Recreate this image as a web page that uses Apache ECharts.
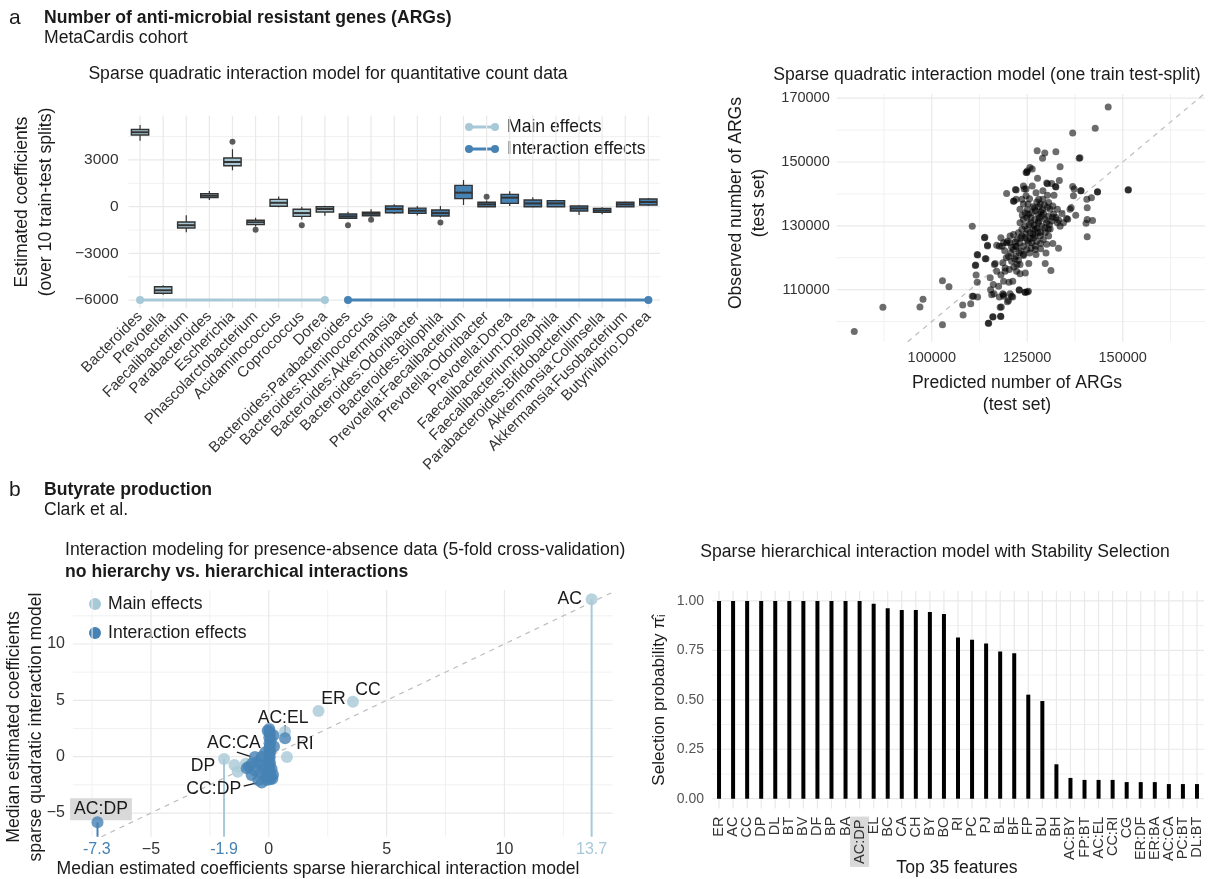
<!DOCTYPE html>
<html>
<head>
<meta charset="utf-8">
<script src="https://cdn.jsdelivr.net/npm/echarts@6/dist/echarts.min.js"></script>
<style>
  html, body { margin: 0; padding: 0; background: #fff; }
  #chart { width: 1208px; height: 879px; }
</style>
</head>
<body>
<div id="chart"></div>
<script>
// ---------------- Panel a (left): coefficient distributions ----------------
const mainGenera = ['Bacteroides', 'Prevotella', 'Faecalibacterium', 'Parabacteroides', 'Escherichia',
  'Phascolarctobacterium', 'Acidaminococcus', 'Coprococcus', 'Dorea'];
const interactionPairs = ['Bacteroides:Parabacteroides', 'Bacteroides:Ruminococcus', 'Bacteroides:Akkermansia',
  'Bacteroides:Odoribacter', 'Bacteroides:Bilophila', 'Prevotella:Faecalibacterium', 'Prevotella:Odoribacter',
  'Prevotella:Dorea', 'Faecalibacterium:Dorea', 'Faecalibacterium:Bilophila', 'Parabacteroides:Bifidobacterium',
  'Akkermansia:Collinsella', 'Akkermansia:Fusobacterium', 'Butyrivibrio:Dorea'];
const boxCategories = mainGenera.concat(interactionPairs);
// [lower whisker, Q1, median, Q3, upper whisker]
const boxStats = [
  [4240, 4600, 4780, 4960, 5250],
  [-5650, -5560, -5370, -5140, -5050],
  [-1640, -1370, -1190, -980, -550],
  [430, 580, 700, 830, 1000],
  [2340, 2630, 2870, 3130, 3690],
  [-1280, -1150, -1000, -870, -710],
  [-40, 30, 250, 470, 650],
  [-830, -620, -410, -160, 0],
  [-590, -340, -150, 0, 60],
  [-780, -740, -620, -470, -330],
  [-640, -580, -450, -360, -170],
  [-470, -390, -150, 40, 150],
  [-560, -430, -260, -90, 40],
  [-690, -600, -410, -210, 40],
  [110, 520, 900, 1370, 1710],
  [-20, 0, 150, 280, 390],
  [40, 210, 580, 790, 990],
  [-40, 0, 210, 430, 600],
  [-20, 0, 210, 390, 450],
  [-540, -280, -110, 40, 90],
  [-490, -360, -240, -110, -40],
  [-20, 0, 150, 280, 320],
  [40, 110, 300, 490, 560]
];
const boxOutliers = [
  ['Escherichia', 4170], ['Phascolarctobacterium', -1480], ['Coprococcus', -1200],
  ['Bacteroides:Parabacteroides', -1200], ['Bacteroides:Ruminococcus', -840],
  ['Bacteroides:Bilophila', -1010], ['Prevotella:Odoribacter', 640]
];
const effectBaseline = -6000;
const boxYTicks = [-6000, -3000, 0, 3000];
const boxYMinor = [-4500, -1500, 1500, 4500];
const boxYRange = [-6520, 5850];

// ---------------- Panel a (right): predicted vs observed ARGs ----------------
const argPoints = [
  [79700, 96900], [87200, 104500], [96900, 104600], [97700, 107000], [102800, 112800], [104500, 110900],
  [102800, 99000], [108100, 105200], [108200, 102100], [110200, 105600], [110900, 107900], [112000, 107700],
  [110600, 129900], [112000, 120900], [111500, 117700], [111600, 114600], [111900, 112300], [113800, 126300],
  [114000, 119700], [114600, 123700], [114900, 99500], [116000, 101500], [118000, 101700], [118200, 104600],
  [115700, 108400], [116400, 117900], [117700, 107700], [118800, 108400], [120100, 106600], [120900, 107900],
  [122900, 110000], [124500, 109200], [125000, 109300], [119600, 140100], [122100, 141200], [121500, 137800],
  [124000, 142500], [124900, 146700], [125700, 148300], [126300, 147800], [127600, 153500], [129000, 151200],
  [129600, 152800], [132500, 153200], [133600, 148500], [127700, 144900], [130100, 143400], [132500, 142200],
  [133400, 144200], [136900, 159100], [138600, 151200], [138800, 151300], [142800, 160600], [146200, 167200],
  [151400, 141200], [136900, 142300], [139000, 141000], [137100, 139400], [137300, 141500], [136500, 135700],
  [137700, 133300], [136200, 135200], [135600, 132100], [135300, 132300], [140600, 138300], [143400, 140600],
  [141800, 138800], [140700, 135700], [140700, 132000], [142100, 131700], [140400, 130800], [140700, 126600],
  [133200, 123000], [131200, 116000], [129700, 118200], [129900, 121500], [128500, 122800], [127100, 123700],
  [127300, 121000], [125400, 118200], [124500, 115200], [124000, 120700], [123300, 122100], [122200, 123600],
  [120700, 121500], [119600, 124700], [118400, 123600], [117000, 123900], [114600, 123900], [113900, 126400],
  [111900, 121000], [114200, 119700], [111400, 117600], [115300, 113700], [116600, 118200], [117000, 115800],
  [118100, 114600], [119200, 115800], [120300, 116300], [121500, 117100], [122200, 115800], [123100, 115000],
  [121200, 112600], [120200, 112300], [118800, 112600], [117500, 111100], [116100, 111600], [115400, 110000],
  [116300, 108700], [118600, 108700], [118800, 107900], [120500, 108700], [121200, 107700], [122900, 109800],
  [124400, 109200], [125300, 109500], [119800, 106200], [117900, 104500], [118100, 101600], [116000, 101400],
  [114800, 99500], [110600, 107900], [121900, 141400], [124200, 141500], [126300, 142500], [124700, 139400],
  [125600, 138500], [125200, 136800], [127300, 140400], [129100, 141000], [130300, 143200], [131400, 143300],
  [132400, 142300], [132000, 139600], [130300, 139600], [129100, 138300], [128000, 138300], [128400, 136800],
  [130600, 137300], [131700, 136200], [132900, 135200], [134100, 133900], [133200, 131800], [121400, 137700],
  [122100, 138300], [125000, 147200], [124700, 146700], [139100, 141000], [143400, 140700], [151500, 141300],
  [123100, 131000], [124000, 132000], [124900, 132600], [125300, 133600], [126200, 134100], [127100, 134700],
  [127900, 133600], [128800, 133100], [129700, 132000], [130100, 131000], [130500, 128900], [129700, 127800],
  [128400, 126800], [127500, 125200], [126600, 126300], [125700, 127800], [125000, 128900], [124400, 129900],
  [123600, 128900], [122700, 127800], [121400, 127300], [120500, 126800], [119800, 125200], [118800, 124700],
  [117700, 123600], [118100, 126300], [122300, 125700], [123100, 124700], [124000, 123600], [124900, 122600],
  [125600, 121500], [126200, 124700], [127100, 128900], [127900, 131000], [128800, 129900], [121400, 122600],
  [122100, 120500], [122700, 119200], [123100, 117900], [122300, 117900], [120900, 118900], [119500, 120000],
  [118600, 118400], [119200, 116800], [120500, 124700], [125300, 124700], [124400, 126300], [123600, 126800],
  [131000, 135200], [131900, 133600], [132500, 132600], [132900, 131000], [133600, 129900], [134500, 131000],
  [131400, 131500], [130600, 126800], [131700, 124500], [130100, 124200], [128500, 124500], [129200, 125700],
  [127100, 122600], [124000, 136800], [123100, 135200], [123600, 138300], [124700, 141500], [126000, 131000],
  [127000, 132000], [128000, 131500], [126500, 129000], [125500, 130500], [129000, 135000], [128000, 136000],
  [127500, 137500], [126500, 136000], [125000, 135000], [124500, 134000], [129500, 136500], [130500, 133000],
  [131000, 129000], [127000, 127000], [128500, 128000], [126000, 123000], [125000, 125500], [124000, 121000],
  [122000, 123500], [126800, 130200], [127600, 129300], [128200, 132600], [129300, 133900], [126900, 135600],
  [125900, 132500], [124600, 127500], [123300, 126200], [121800, 124900], [120900, 123300], [126400, 127400],
  [127800, 127900], [129600, 129400], [130800, 130400], [131600, 132700], [128600, 134400], [125800, 126000],
  [122900, 121600], [121700, 119700], [120100, 120400], [119100, 122200], [123700, 133300], [130300, 135800]
];
const argXTicks = [100000, 125000, 150000];
const argXMinor = [87500, 112500, 137500, 162500];
const argYTicks = [110000, 130000, 150000, 170000];
const argYMinor = [100000, 120000, 140000, 160000];
const argXRange = [75100, 171550];
const argYRange = [93700, 171300];

// ---------------- Panel b (left): hierarchical vs non-hierarchical ----------------
const mainEffectNames = ['AC', 'CC', 'ER', '', 'RI', 'DP', '', '', ''];
const mainEffectX = [13.7, 3.57, 2.11, 0.69, 0.77, -1.9, -1.46, -1.32, -0.98];
const mainEffectY = [13.97, 4.88, 4.06, 2.22, -0.02, -0.2, -0.74, -1.33, -0.62];
const interactionNames = ['AC:DP', 'AC:EL', 'AC:CA', 'CC:DP', '', '', '', '', '', '', '', '', '', '', '', '', '', '', '',
  '', '', '', '', '', '', '', '', '', '', '', '', '', '', '', '', '', '', '', '', '', '', '', ''];
const interactionX = [-7.27, 0.69, -0.59, -0.3, 0.02, 0.03, 0.05, 0.02, 0.08, 0.03, 0.05, 0.02, 0.06, 0.02, 0.04,
  0.0, 0.05, 0.03, 0.0, 0.05, 0.02, 0.1, 0.05, 0.2, 0.15, -0.05, -0.3, -0.45, -0.24, -0.85, -0.73, -0.45, -0.09,
  -0.94, -0.6, -0.35, -0.2, -0.15, 0.18, 0.22, -0.7, -0.1, 0.12];
const interactionY = [-5.82, 1.63, -0.03, -2.3, 2.45, 2.2, 1.95, 1.7, 1.45, 1.2, 0.95, 0.7, 0.45, 0.2, -0.05,
  -0.3, -0.55, -0.8, -1.05, -1.3, -1.55, -1.8, -2.0, 1.9, -1.95, 2.3, 0.0, -0.44, -0.74, -0.9, -1.62, -2.07, -2.07,
  -1.03, -1.2, -1.4, -1.1, 0.4, -1.6, 0.9, -0.6, -1.75, -1.1];
const coefXTicks = [-5, 0, 5, 10];
const coefXMarked = [-7.3, -1.9, 13.7];
const coefXMinor = [-7.5, -2.5, 2.5, 7.5, 12.5];
const coefYTicks = [-5, 0, 5, 10];
const coefYMinor = [-2.5, 2.5, 7.5, 12.5];
const coefXRange = [-8.31, 14.59];
const coefYRange = [-7.1, 14.79];
const dropLineNames = ['AC', 'DP', 'AC:DP'];

// ---------------- Panel b (right): stability selection ----------------
const featureNames = ['ER', 'AC', 'CC', 'DP', 'DL', 'BT', 'BV', 'DF', 'BP', 'BA', 'AC:DP', 'EL', 'BC', 'CA', 'CH',
  'BY', 'BO', 'RI', 'PC', 'PJ', 'BL', 'BF', 'FP', 'BU', 'BH', 'AC:BY', 'FP:BT', 'AC:EL', 'CC:RI', 'CG', 'ER:DF',
  'ER:BA', 'AC:CA', 'PC:BT', 'DL:BT'];
const selectionProb = [1, 1, 1, 1, 1, 1, 1, 1, 1, 1, 1, 0.985, 0.963, 0.954, 0.954, 0.944, 0.934, 0.815, 0.804,
  0.784, 0.744, 0.735, 0.526, 0.494, 0.174, 0.105, 0.095, 0.095, 0.095, 0.084, 0.084, 0.084, 0.074, 0.074, 0.074];
const probTicks = [0, 0.25, 0.5, 0.75, 1];
const probMinor = [0.125, 0.375, 0.625, 0.875];
const highlightedFeature = 'AC:DP';

// ---------------- styling ----------------
const LIGHT = '#a7c9d7';
const STEEL = '#4682b4';
const GRID_MAJOR = '#e9e9e9';
const GRID_MINOR = '#f1f1f1';
const INK = '#1a1a1a';
const TICK = '#333333';
const FONT = "'Liberation Sans', Arial, Helvetica, sans-serif";
const TITLE = 17.6;
const TICKSIZE = 15;

const minus = v => (v < 0 ? '\u2212' + Math.abs(v) : String(v));

function gridLines(idx, values, dir, ref, color, width) {
  return {
    type: 'custom', xAxisIndex: idx, yAxisIndex: idx, silent: true, z: 0,
    data: values.map(v => (dir === 'h' ? [ref, v] : [v, ref])),
    renderItem(params, api) {
      const cs = params.coordSys;
      const p = api.coord([api.value(0), api.value(1)]);
      const shape = dir === 'h'
        ? { x1: cs.x, y1: p[1], x2: cs.x + cs.width, y2: p[1] }
        : { x1: p[0], y1: cs.y, x2: p[0], y2: cs.y + cs.height };
      return { type: 'line', shape, style: { stroke: color, lineWidth: width } };
    }
  };
}

function plainAxis(idx, type, extra) {
  return Object.assign({
    gridIndex: idx, type,
    axisLine: { show: false }, axisTick: { show: false }, splitLine: { show: false }
  }, extra);
}

// label placement for annotated points in panel b (pixel offsets from the point)
const labelPlacement = {
  'AC': { dx: -22, dy: 0 },
  'CC': { dx: 15, dy: -12 },
  'ER': { dx: 15, dy: -12 },
  'RI': { dx: 18, dy: -13 },
  'DP': { dx: -21, dy: 7 },
  'AC:EL': { dx: -2, dy: -20, seg: [0, -13, 0, -5] },
  'AC:CA': { dx: -21, dy: -14, seg: [-18, -5, -4, -0.5] },
  'CC:DP': { dx: -48, dy: 6.5, seg: [-18, 3.5, -4, 0] },
  'AC:DP': { dx: 3.5, dy: -13, box: true }
};

const labelled = [];
mainEffectNames.forEach((n, i) => { if (n) labelled.push({ name: n, value: [mainEffectX[i], mainEffectY[i]] }); });
interactionNames.forEach((n, i) => { if (n) labelled.push({ name: n, value: [interactionX[i], interactionY[i]] }); });

const dropLines = dropLineNames.map(n => {
  const mi = mainEffectNames.indexOf(n);
  if (mi >= 0) return [mainEffectX[mi], mainEffectY[mi], 0];
  const ii = interactionNames.indexOf(n);
  return [interactionX[ii], interactionY[ii], 1];
});

const series = [
  // ----- grid 0 -----
  gridLines(0, boxYMinor, 'h', 0, GRID_MINOR, 1),
  gridLines(0, boxYTicks, 'h', 0, GRID_MAJOR, 1.2),
  gridLines(0, boxCategories.map((c, i) => i), 'v', 0, GRID_MAJOR, 1.2),
  {
    type: 'line', xAxisIndex: 0, yAxisIndex: 0, silent: true, z: 2,
    data: [[mainGenera[0], effectBaseline], [mainGenera[mainGenera.length - 1], effectBaseline]],
    symbol: 'circle', symbolSize: 8, lineStyle: { color: LIGHT, width: 3 }, itemStyle: { color: LIGHT }
  },
  {
    type: 'line', xAxisIndex: 0, yAxisIndex: 0, silent: true, z: 2,
    data: [[interactionPairs[0], effectBaseline], [interactionPairs[interactionPairs.length - 1], effectBaseline]],
    symbol: 'circle', symbolSize: 8, lineStyle: { color: STEEL, width: 3 }, itemStyle: { color: STEEL }
  },
  {
    type: 'custom', xAxisIndex: 0, yAxisIndex: 0, z: 3,
    data: boxStats.map((s, i) => [i].concat(s, [i < mainGenera.length ? 0 : 1])),
    renderItem(params, api) {
      const i = api.value(0);
      const lo = api.coord([i, api.value(1)]);
      const q1 = api.coord([i, api.value(2)]);
      const md = api.coord([i, api.value(3)]);
      const q3 = api.coord([i, api.value(4)]);
      const hi = api.coord([i, api.value(5)]);
      const bw = api.size([1, 0])[0] * 0.75;
      const x = lo[0];
      const fill = api.value(6) === 0 ? LIGHT : STEEL;
      const ink = '#333';
      return {
        type: 'group', children: [
          { type: 'line', shape: { x1: x, y1: hi[1], x2: x, y2: q3[1] }, style: { stroke: ink, lineWidth: 1.2 } },
          { type: 'line', shape: { x1: x, y1: q1[1], x2: x, y2: lo[1] }, style: { stroke: ink, lineWidth: 1.2 } },
          { type: 'rect', shape: { x: x - bw / 2, y: q3[1], width: bw, height: q1[1] - q3[1] },
            style: { fill, stroke: ink, lineWidth: 1.4 } },
          { type: 'line', shape: { x1: x - bw / 2, y1: md[1], x2: x + bw / 2, y2: md[1] },
            style: { stroke: ink, lineWidth: 2 } }
        ]
      };
    }
  },
  {
    type: 'scatter', xAxisIndex: 0, yAxisIndex: 0, z: 4, silent: true,
    data: boxOutliers, symbolSize: 6, itemStyle: { color: '#333' }
  },

  // ----- grid 1 -----
  gridLines(1, argXMinor, 'v', argYRange[0], GRID_MINOR, 1),
  gridLines(1, argYMinor, 'h', argXRange[0], GRID_MINOR, 1),
  gridLines(1, argXTicks, 'v', argYRange[0], GRID_MAJOR, 1.2),
  gridLines(1, argYTicks, 'h', argXRange[0], GRID_MAJOR, 1.2),
  {
    type: 'line', xAxisIndex: 1, yAxisIndex: 1, silent: true, z: 2, symbol: 'none',
    data: [[argYRange[0], argYRange[0]], [argYRange[1], argYRange[1]]],
    lineStyle: { color: '#bdbdbd', width: 1.2, type: [5, 5] }
  },
  {
    type: 'scatter', xAxisIndex: 1, yAxisIndex: 1, z: 3, silent: true,
    data: argPoints, symbolSize: 7, itemStyle: { color: 'rgba(0,0,0,0.72)' }
  },

  // ----- grid 2 -----
  gridLines(2, coefXMinor, 'v', 0, GRID_MINOR, 1),
  gridLines(2, coefYMinor, 'h', 0, GRID_MINOR, 1),
  gridLines(2, coefXTicks, 'v', 0, GRID_MAJOR, 1.2),
  gridLines(2, coefYTicks, 'h', 0, GRID_MAJOR, 1.2),
  {
    type: 'line', xAxisIndex: 2, yAxisIndex: 2, silent: true, z: 2, symbol: 'none',
    data: [[coefYRange[0], coefYRange[0]], [coefXRange[1], coefXRange[1]]],
    lineStyle: { color: '#bdbdbd', width: 1.2, type: [5, 5] }
  },
  {
    type: 'custom', xAxisIndex: 2, yAxisIndex: 2, silent: true, z: 2,
    data: dropLines,
    renderItem(params, api) {
      const cs = params.coordSys;
      const p = api.coord([api.value(0), api.value(1)]);
      return { type: 'line', shape: { x1: p[0], y1: p[1], x2: p[0], y2: cs.y + cs.height },
        style: { stroke: api.value(2) === 0 ? LIGHT : STEEL, lineWidth: 2 } };
    }
  },
  {
    type: 'custom', xAxisIndex: 2, yAxisIndex: 2, silent: true, z: 3,
    data: labelled,
    renderItem(params, api) {
      const p = api.coord([api.value(0), api.value(1)]);
      const name = labelled[params.dataIndex].name;
      const pl = labelPlacement[name];
      const children = [];
      if (pl.seg) {
        children.push({ type: 'line', shape: { x1: p[0] + pl.seg[0], y1: p[1] + pl.seg[1], x2: p[0] + pl.seg[2], y2: p[1] + pl.seg[3] },
          style: { stroke: INK, lineWidth: 1.3 } });
      }
      children.push({
        type: 'text', x: p[0] + pl.dx, y: p[1] + pl.dy,
        style: {
          text: name, fill: INK, font: TITLE + 'px ' + FONT, align: 'center', verticalAlign: 'middle',
          textAlign: 'center', textVerticalAlign: 'middle',
          backgroundColor: pl.box ? '#d9d9d9' : null, padding: pl.box ? [3, 4, 1, 4] : 0
        }
      });
      return { type: 'group', children };
    }
  },
  {
    type: 'scatter', xAxisIndex: 2, yAxisIndex: 2, z: 4, silent: true,
    data: mainEffectX.map((x, i) => [x, mainEffectY[i]]), symbolSize: 12, itemStyle: { color: LIGHT }
  },
  {
    type: 'scatter', xAxisIndex: 2, yAxisIndex: 2, z: 5, silent: true,
    data: interactionX.map((x, i) => [x, interactionY[i]]), symbolSize: 12, itemStyle: { color: STEEL }
  },

  // ----- grid 3 -----
  gridLines(3, probMinor, 'h', 0, GRID_MINOR, 1),
  gridLines(3, probTicks, 'h', 0, GRID_MAJOR, 1.2),
  gridLines(3, featureNames.map((f, i) => i), 'v', 0, GRID_MAJOR, 1.2),
  {
    type: 'bar', xAxisIndex: 3, yAxisIndex: 3, z: 3, silent: true,
    data: selectionProb, barWidth: 4, itemStyle: { color: '#000' }
  }
];

const txt = (x, y, text, size, opts) => Object.assign({
  type: 'text', x, y, silent: true,
  style: Object.assign({ text, fill: INK, font: size + 'px ' + FONT, align: 'left', verticalAlign: 'middle',
    textAlign: 'left', textVerticalAlign: 'middle' }, (opts && opts.style) || {})
}, (opts && opts.el) || {});
const center = { style: { align: 'center', textAlign: 'center' } };
const rot = { el: { rotation: Math.PI / 2 }, style: { align: 'center', textAlign: 'center' } };
const bold = size => ({ style: { font: 'bold ' + size + 'px ' + FONT } });

const graphics = [
  txt(9, 18, 'a', 21),
  txt(44, 18, 'Number of anti-microbial resistant genes (ARGs)', TITLE, bold(TITLE)),
  txt(44, 38, 'MetaCardis cohort', TITLE),
  txt(328, 74, 'Sparse quadratic interaction model for quantitative count data', TITLE, center),
  txt(22, 202, 'Estimated coefficients', TITLE, rot),
  txt(46, 202, '(over 10 train-test splits)', TITLE, rot),
  txt(987, 75, 'Sparse quadratic interaction model (one train test-split)', TITLE, center),
  txt(736, 203, 'Observed number of ARGs', TITLE, rot),
  txt(759, 203, '(test set)', TITLE, rot),
  txt(1017, 383, 'Predicted number of ARGs', TITLE, center),
  txt(1017, 405, '(test set)', TITLE, center),

  txt(9, 490, 'b', 21),
  txt(44, 490, 'Butyrate production', TITLE, bold(TITLE)),
  txt(44, 510, 'Clark et al.', TITLE),
  txt(65, 550, 'Interaction modeling for presence-absence data (5-fold cross-validation)', TITLE),
  txt(65, 572, 'no hierarchy vs. hierarchical interactions', TITLE, bold(TITLE)),
  txt(14, 727, 'Median estimated coefficients', TITLE, rot),
  txt(36, 727, 'sparse quadratic interaction model', TITLE, rot),
  txt(318, 869, 'Median estimated coefficients sparse hierarchical interaction model', TITLE, center),
  txt(935, 552, 'Sparse hierarchical interaction model with Stability Selection', TITLE, center),
  txt(659, 700, 'Selection probability \u03C0\u0302\u1D62', 17, rot),
  txt(957, 868, 'Top 35 features', TITLE, center),

  // legend, panel a
  { type: 'line', shape: { x1: 469, y1: 127, x2: 495, y2: 127 }, style: { stroke: LIGHT, lineWidth: 3 }, silent: true },
  { type: 'circle', shape: { cx: 469, cy: 127, r: 4 }, style: { fill: LIGHT }, silent: true },
  { type: 'circle', shape: { cx: 495, cy: 127, r: 4 }, style: { fill: LIGHT }, silent: true },
  txt(507, 127, 'Main effects', TITLE),
  { type: 'line', shape: { x1: 469, y1: 149, x2: 495, y2: 149 }, style: { stroke: STEEL, lineWidth: 3 }, silent: true },
  { type: 'circle', shape: { cx: 469, cy: 149, r: 4 }, style: { fill: STEEL }, silent: true },
  { type: 'circle', shape: { cx: 495, cy: 149, r: 4 }, style: { fill: STEEL }, silent: true },
  txt(507, 149, 'Interaction effects', TITLE),

  // legend, panel b
  { type: 'circle', shape: { cx: 95, cy: 604, r: 6 }, style: { fill: LIGHT }, silent: true },
  txt(108, 604, 'Main effects', TITLE),
  { type: 'circle', shape: { cx: 95, cy: 633, r: 6 }, style: { fill: STEEL }, silent: true },
  txt(108, 633, 'Interaction effects', TITLE)
];

const option = {
  animation: false,
  backgroundColor: '#fff',
  textStyle: { fontFamily: FONT },
  grid: [
    { left: 128.5, top: 115.6, width: 531.4, height: 192.6 },
    { left: 836.7, top: 94, width: 368.3, height: 247.7 },
    { left: 73, top: 590, width: 539.6, height: 246.7 },
    { left: 712, top: 591, width: 492, height: 217.6 }
  ],
  xAxis: [
    plainAxis(0, 'category', {
      data: boxCategories,
      axisLabel: { interval: 0, rotate: 45, fontSize: TICKSIZE, color: TICK, margin: 6, fontFamily: FONT }
    }),
    plainAxis(1, 'value', {
      min: argXRange[0], max: argXRange[1],
      axisLabel: { customValues: argXTicks, formatter: v => String(v), fontSize: 14.5, color: TICK, margin: 9, fontFamily: FONT }
    }),
    plainAxis(2, 'value', {
      min: coefXRange[0], max: coefXRange[1],
      axisLabel: {
        customValues: coefXTicks.concat(coefXMarked).sort((a, b) => a - b),
        fontSize: 16, margin: 5, fontFamily: FONT, color: TICK,
        formatter: v => {
          const k = coefXMarked.indexOf(v);
          if (k < 0) return minus(v);
          return (v < 0 ? '{s|' : '{l|') + v.toFixed(1) + '}';
        },
        rich: {
          s: { color: STEEL, fontSize: 16, fontFamily: FONT },
          l: { color: LIGHT, fontSize: 16, fontFamily: FONT }
        }
      }
    }),
    plainAxis(3, 'category', {
      data: featureNames,
      axisLabel: {
        interval: 0, rotate: 90, fontSize: 14.5, color: TICK, margin: 8, fontFamily: FONT,
        formatter: v => (v === highlightedFeature ? '{hl|' + v + '}' : v),
        rich: { hl: { backgroundColor: '#d9d9d9', padding: [2, 3, 2, 3], fontSize: 14.5, color: TICK, fontFamily: FONT } }
      }
    })
  ],
  yAxis: [
    plainAxis(0, 'value', {
      min: boxYRange[0], max: boxYRange[1],
      axisLabel: { customValues: boxYTicks, formatter: minus, fontSize: 15.5, color: TICK, margin: 10, fontFamily: FONT }
    }),
    plainAxis(1, 'value', {
      min: argYRange[0], max: argYRange[1],
      axisLabel: { customValues: argYTicks, formatter: v => String(v), fontSize: 14.5, color: TICK, margin: 7, fontFamily: FONT }
    }),
    plainAxis(2, 'value', {
      min: coefYRange[0], max: coefYRange[1],
      axisLabel: { customValues: coefYTicks, formatter: minus, fontSize: 16, color: TICK, margin: 8, fontFamily: FONT }
    }),
    plainAxis(3, 'value', {
      min: -0.05, max: 1.05,
      axisLabel: { customValues: probTicks, formatter: v => v.toFixed(2), fontSize: 14, color: '#555', margin: 8, fontFamily: FONT }
    })
  ],
  series,
  graphic: { elements: graphics }
};

const chart = echarts.init(document.getElementById('chart'), null, { renderer: 'canvas' });
chart.setOption(option);
</script>
</body>
</html>
